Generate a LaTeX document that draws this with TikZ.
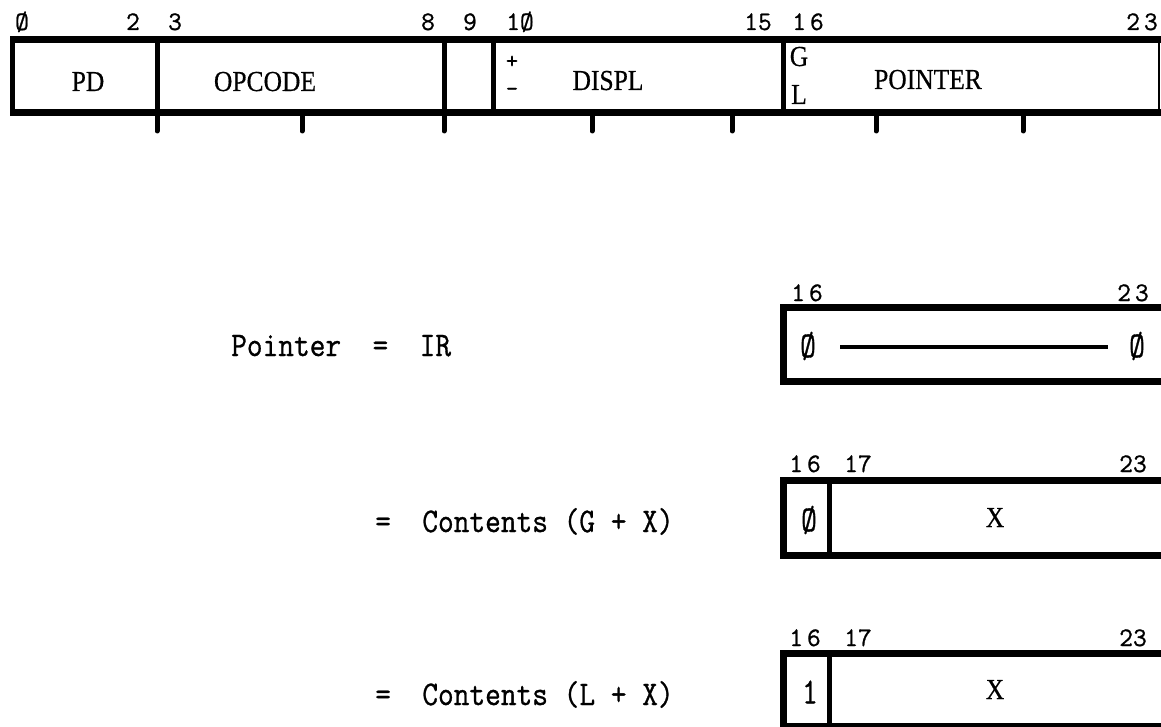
\documentclass[tikz,border=0pt]{standalone}
\usepackage{fontspec}
\setmainfont{Liberation Serif}
\newfontface\heavymono[FakeBold=0.9]{Latin Modern Mono}
\newfontface\heavyserif[FakeBold=0.5]{Liberation Serif}
\newcommand{\fldtext}[1]{\scalebox{0.88}[1]{#1}}
\newcommand{\talltext}[1]{\scalebox{1}[1.13]{#1}}
\newcommand{\celltext}[1]{\scalebox{1}[1.2]{#1}}
\tikzset{
  regline/.style={line width=7pt, line join=miter},
  divline/.style={line width=5pt},
  tickline/.style={line width=5pt, line cap=round},
  lab/.style={font=\heavymono\fontsize{26.7}{26.7}\selectfont, inner sep=0pt, anchor=base},
  fld/.style={font=\heavyserif\fontsize{29}{29}\selectfont, inner sep=0pt, anchor=base},
  sgn/.style={font=\heavymono\fontsize{24}{24}\selectfont, inner sep=0pt},
  txt/.style={font=\heavymono\fontsize{30.5}{30.5}\selectfont, inner sep=0pt, anchor=base west},
  cell/.style={font=\heavymono\fontsize{30.5}{30.5}\selectfont, inner sep=0pt},
}
\begin{document}
\begin{tikzpicture}[x=1pt,y=-1pt]
\useasboundingbox (0,0) rectangle (1161,727);
\fill[white] (0,0) rectangle (1161,727);

% ---------- top register ----------
\draw[regline] (10,40) -- (1161,40);
\draw[regline] (10,113) -- (1161,113);
\draw[divline] (12.5,37) -- (12.5,116);
\draw[line width=2pt] (1159,40) -- (1159,113);
\foreach \xx in {157,444,493,783} \draw[divline] (\xx,40) -- (\xx,113);
\foreach \xx in {157,302,444,592,732,876,1023} \draw[tickline] (\xx,113) -- (\xx,131);

% bit numbers
\node[lab] (b0)  at (22,30)   {Ø};
\node[lab] (b2)  at (133,30)  {2};
\node[lab] (b3)  at (175,30)  {3};
\node[lab] (b8)  at (428,30)  {8};
\node[lab] (b9)  at (470,30)  {9};
\node[lab] (b10) at (520,30)  {1Ø};
\node[lab] (b15) at (758,30)  {15};
\node[lab] (b16) at (808,30)  {1\kern4pt 6};
\node[lab] (b23) at (1142,30) {2\kern4pt 3};

% fields
\node[fld] (pd)  at (88,91)   {\fldtext{PD}};
\node[fld] (op)  at (265,91)  {\fldtext{OPCODE}};
\node[sgn] (pl)  at (512,62)  {+};
\node[sgn] (mi)  at (512,92)  {-};
\node[fld] (dsp) at (608,90)  {\fldtext{DISPL}};
\node[fld] (g)   at (799,66)  {\fldtext{G}};
\node[fld] (l)   at (799,104) {\fldtext{L}};
\node[fld] (ptr) at (928,89)  {\fldtext{POINTER}};

% ---------- left text ----------
\node[txt] (t1) at (231,356) {\talltext{Pointer~~=~~IR}};
\node[txt] (t2) at (375,532) {\talltext{=~~Contents (G + X)}};
\node[txt] (t3) at (375,705) {\talltext{=~~Contents (L + X)}};

% ---------- box 1 ----------
\draw[regline] (1170,307) -- (783,307) -- (783,381) -- (1170,381);
\draw[line width=4pt] (840,347) -- (1108,347);
\node[cell] (z1a) at (808,346)  {\celltext{Ø}};
\node[cell] (z1b) at (1137,346) {\celltext{Ø}};
\node[lab] (c16a) at (807,301)  {1\kern4pt 6};
\node[lab] (c23a) at (1133,301) {2\kern4pt 3};

% ---------- box 2 ----------
\draw[regline] (1170,480) -- (783,480) -- (783,555) -- (1170,555);
\draw[divline] (829,480) -- (829,555);
\node[cell] (z2) at (809,520) {\celltext{Ø}};
\node[fld] (x2) at (995,527) {\fldtext{X}};
\node[lab] (c16b) at (805,472)  {1\kern4pt 6};
\node[lab] (c17b) at (858,472)  {17};
\node[lab] (c23b) at (1133,472) {23};

% ---------- box 3 ----------
\draw[regline] (1170,653) -- (783,653) -- (783,726) -- (1170,726);
\draw[divline] (829,653) -- (829,726);
\node[cell] (one3) at (810,692) {\celltext{1}};
\node[fld] (x3) at (995,699) {\fldtext{X}};
\node[lab] (c16c) at (805,646)  {1\kern4pt 6};
\node[lab] (c17c) at (858,646)  {17};
\node[lab] (c23c) at (1133,646) {23};
\end{tikzpicture}
\end{document}
